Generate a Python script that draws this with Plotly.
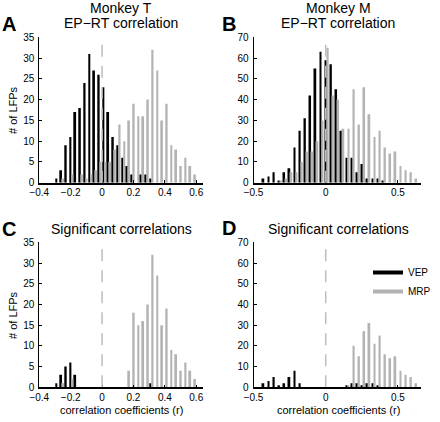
import plotly.graph_objects as go

# ---------------- data ----------------
# Monkey T bins (panels A, C)
t_bins = [-0.285, -0.255, -0.225, -0.195, -0.165, -0.135, -0.105, -0.075, -0.045, -0.015,
          0.015, 0.045, 0.075, 0.105, 0.135, 0.165, 0.195, 0.225, 0.255, 0.285,
          0.315, 0.345, 0.375, 0.405, 0.435, 0.465, 0.495, 0.525, 0.555, 0.585, 0.615]
a_vep = [1, 3, 9, 11, 17, 18, 24, 31, 27, 26,
         23, 17, 11, 9, 6, 4, 2, 0, 2, 2,
         1, 0, 0, 0, 0, 0, 0, 0, 0, 0, 0]
a_mrp = [0, 1, 0, 2, 0, 2, 1, 2, 3, 5,
         5, 5, 8, 14, 10, 15, 19, 16, 16, 20,
         32, 27, 15, 19, 9, 8, 4, 6, 4, 2, 0]
c_vep = [1, 3, 5, 6, 3, 0, 0, 0, 0, 0,
         0, 0, 0, 0, 0, 0, 0, 0, 0, 0,
         1, 0, 0, 0, 0, 0, 0, 0, 0, 0, 0]
c_mrp = [0, 1, 0, 2, 0, 0, 0, 0, 0, 0,
         0, 0, 0, 0, 0, 4, 18, 15, 16, 20,
         32, 27, 15, 19, 9, 8, 4, 6, 4, 2, 0]

# Monkey M bins (panels B, D)
m_bins = [-0.425, -0.389, -0.353, -0.317, -0.281, -0.245, -0.209, -0.173, -0.137, -0.101,
          -0.065, -0.029, 0.007, 0.043, 0.079, 0.115, 0.151, 0.187, 0.223, 0.259,
          0.295, 0.331, 0.367, 0.403, 0.439, 0.475, 0.511, 0.547, 0.583, 0.619]
b_vep = [2, 3, 5, 1, 5, 7, 17, 25, 31, 42,
         55, 63, 59, 57, 45, 25, 12, 12, 5, 9,
         2, 2, 2, 1, 0, 0, 0, 0, 0, 0]
b_mrp = [0, 0, 0, 1, 2, 5, 5, 10, 15, 15,
         20, 30, 65, 42, 40, 26, 26, 45, 28, 46,
         33, 22, 25, 17, 14, 15, 8, 6, 5, 2]
d_vep = [2, 3, 5, 1, 2, 5, 8, 2, 0, 0,
         0, 0, 0, 0, 0, 0, 1, 2, 2, 1,
         2, 2, 1, 0, 0, 0, 0, 0, 0, 0]
d_mrp = [0, 0, 0, 0, 0, 0, 0, 0, 0, 0,
         0, 0, 0, 0, 0, 0, 1, 20, 15, 27,
         31, 21, 25, 16, 14, 15, 8, 6, 5, 2]

t_xticks = [-0.4, -0.2, 0, 0.2, 0.4, 0.6]
t_xticktext = ["\u22120.4", "\u22120.2", "0", "0.2", "0.4", "0.6"]
m_xticks = [-0.5, 0, 0.5]
m_xticktext = ["\u22120.5", "0", "0.5"]
t_yticks = [0, 5, 10, 15, 20, 25, 30, 35]
m_yticks = [0, 10, 20, 30, 40, 50, 60, 70]

series_names = ["VEP", "MRP"]

# ---------------- styling ----------------
W, H = 440, 422
FONT = "Liberation Sans, Arial, Helvetica, sans-serif"
BLACK = "#000000"
GREY = "#b3b3b3"
DASH_GREY = "#bdbdbd"


def px(x):
    return x / W


def py(y):
    return 1 - y / H


panels = [
    # name, bins, vep, mrp, xaxis, yaxis, xdomain px, ydomain px, xrange, ymax, barwidth, sep
    ("A", t_bins, a_vep, a_mrp, "x", "y", (39.3, 203.3), (37.3, 182.7), [-0.4, 0.645], 35, 0.012, 0.0065),
    ("B", m_bins, b_vep, b_mrp, "x2", "y2", (253.5, 421), (37.3, 182.7), [-0.5, 0.66], 70, 0.013, 0.007),
    ("C", t_bins, c_vep, c_mrp, "x3", "y3", (39.3, 203.3), (242.3, 387.3), [-0.4, 0.645], 35, 0.012, 0.0065),
    ("D", m_bins, d_vep, d_mrp, "x4", "y4", (253.5, 421), (242.3, 387.3), [-0.5, 0.66], 70, 0.013, 0.007),
]

fig = go.Figure()
layout = dict(
    width=W, height=H,
    margin=dict(l=0, r=0, t=0, b=0, autoexpand=False),
    paper_bgcolor="white", plot_bgcolor="white",
    barmode="overlay",
    font=dict(family=FONT, size=10, color="black"),
    showlegend=True,
    shapes=[], annotations=[],
)

for name, bins, vep, mrp, xa, ya, xd, yd, xr, ymax, bw, sep in panels:
    fig.add_trace(go.Bar(x=bins, y=vep, width=bw, offset=-sep - bw / 2,
                         marker=dict(color=BLACK, line=dict(width=0)),
                         xaxis=xa, yaxis=ya, showlegend=False, name=series_names[0]))
    fig.add_trace(go.Bar(x=bins, y=mrp, width=bw, offset=sep - bw / 2,
                         marker=dict(color=GREY, line=dict(width=0)),
                         xaxis=xa, yaxis=ya, showlegend=False, name=series_names[1]))
    xkey = "xaxis" + xa[1:]
    ykey = "yaxis" + ya[1:]
    is_t = name in ("A", "C")
    layout[xkey] = dict(
        domain=[px(xd[0]), px(xd[1])], range=xr, anchor=ya,
        showgrid=False, zeroline=False, showline=True, linecolor="black", linewidth=1.5,
        ticks="inside", ticklen=3, tickwidth=1, tickcolor="black",
        tickvals=t_xticks if is_t else m_xticks,
        ticktext=t_xticktext if is_t else m_xticktext,
        tickfont=dict(size=10, family=FONT), ticklabelstandoff=0,
    )
    layout[ykey] = dict(
        domain=[py(yd[1]), py(yd[0])], range=[0, ymax], anchor=xa,
        showgrid=False, zeroline=False, showline=True, linecolor="black", linewidth=1,
        ticks="inside", ticklen=3, tickwidth=1, tickcolor="black",
        tickvals=t_yticks if is_t else m_yticks,
        tickfont=dict(size=10, family=FONT), ticklabelstandoff=2,
    )
    # dashed zero line
    layout["shapes"].append(dict(type="line", xref=xa, yref=ya, x0=0, x1=0, y0=0, y1=ymax,
                                 line=dict(color=DASH_GREY, width=1.5, dash="12px,9px"),
                                 layer="above"))

# legend dummy traces (panel D)
fig.add_trace(go.Scatter(x=[None], y=[None], mode="lines", name="VEP",
                         line=dict(color=BLACK, width=4), xaxis="x4", yaxis="y4"))
fig.add_trace(go.Scatter(x=[None], y=[None], mode="lines", name="MRP",
                         line=dict(color=GREY, width=4), xaxis="x4", yaxis="y4"))
layout["legend"] = dict(x=px(368), y=py(258), xanchor="left", yanchor="top",
                        bgcolor="rgba(0,0,0,0)", font=dict(size=10, family=FONT),
                        itemwidth=30, tracegroupgap=0)

ann = layout["annotations"]


def text(x, y, s, size, bold=False, angle=0):
    ann.append(dict(x=px(x), y=py(y), xref="paper", yref="paper", text=("<b>%s</b>" % s) if bold else s,
                    showarrow=False, xanchor="center", yanchor="middle", textangle=angle,
                    font=dict(size=size, family=FONT, color="black")))


# titles
text(121, 7.5, "Monkey T", 14)
text(121, 22.5, "EP\u2212RT correlation", 14)
text(338, 7.5, "Monkey M", 14)
text(338, 22.5, "EP\u2212RT correlation", 14)
text(121, 229, "Significant correlations", 14)
text(338, 229, "Significant correlations", 14)
# panel letters
text(8.5, 24.5, "A", 20, bold=True)
text(228.5, 24.5, "B", 20, bold=True)
text(8.5, 229, "C", 20, bold=True)
text(228.5, 228, "D", 20, bold=True)
# axis labels
text(13, 110, "# of LFPs", 11, angle=-90)
text(13, 315, "# of LFPs", 11, angle=-90)
text(121, 410, "correlation coefficients (r)", 11)
text(338, 410, "correlation coefficients (r)", 11)

fig.update_layout(**layout)
fig.write_html("out.html",
               config={"displayModeBar": False},
               post_script="document.body.style.margin='0';document.body.style.overflow='hidden';")
